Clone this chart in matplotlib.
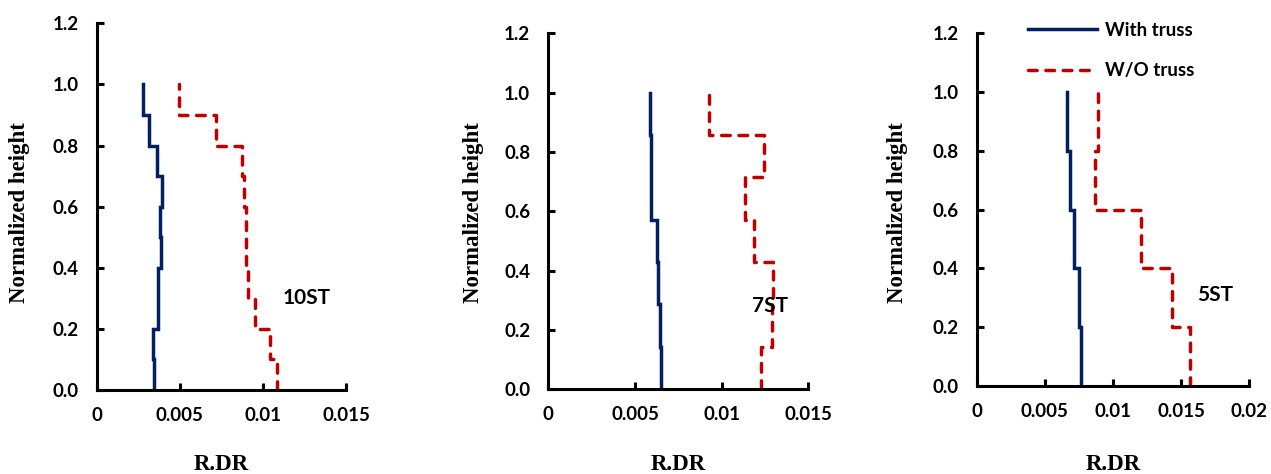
import numpy as np
import matplotlib
matplotlib.use('Agg')
import matplotlib.pyplot as plt

# story drift ratios, listed bottom story first
h10 = [0.0, 0.1, 0.2, 0.3, 0.4, 0.5, 0.6, 0.7, 0.8, 0.9, 1.0]
with10 = [0.00342, 0.00338, 0.00367, 0.0037, 0.00384, 0.0038, 0.0039, 0.00364, 0.00314, 0.0028]
wo10 = [0.01086, 0.01044, 0.0095, 0.0091, 0.009, 0.00896, 0.00886, 0.00874, 0.0072, 0.00494]

h7 = [0.0, 0.143, 0.286, 0.429, 0.571, 0.714, 0.857, 1.0]
with7 = [0.0065, 0.00646, 0.00633, 0.00625, 0.00595, 0.0059, 0.00587]
wo7 = [0.01225, 0.0129, 0.01294, 0.01188, 0.01133, 0.01246, 0.00929]

h5 = [0.0, 0.2, 0.4, 0.6, 0.8, 1.0]
with5 = [0.00762, 0.00748, 0.00713, 0.00684, 0.00664]
wo5 = [0.01564, 0.0143, 0.01207, 0.00867, 0.00887]

W, H = 1271, 474
blue = '#002060'
red = '#C00000'
tick_font = 'Lato'
serif = 'Liberation Serif'
fs_tick = 13.5


def profile(h, d):
    # vertical segment for each story, joined at floor levels
    x = np.repeat(d, 2)
    y = np.concatenate([[h[0]], np.repeat(h[1:-1], 2), [h[-1]]])
    return x, y


def make_ax(px, xmax, xticks, xlabels):
    l, r, t, b = px
    ax = fig.add_axes([l/W, 1-b/H, (r-l)/W, (b-t)/H])
    for s in ['top', 'right']:
        ax.spines[s].set_visible(False)
    for s in ['left', 'bottom']:
        ax.spines[s].set_linewidth(2.2)
    ax.set_xlim(0, xmax)
    ax.set_ylim(0, 1.2)
    ax.set_xticks(xticks)
    ax.set_xticklabels(xlabels)
    ax.set_yticks([0, 0.2, 0.4, 0.6, 0.8, 1.0, 1.2])
    ax.set_yticklabels(['0.0', '0.2', '0.4', '0.6', '0.8', '1.0', '1.2'])
    ax.tick_params(axis='both', direction='in', length=5, width=2.2)
    ax.tick_params(axis='x', pad=12)
    ax.tick_params(axis='y', pad=13)
    for lb in ax.get_xticklabels() + ax.get_yticklabels():
        lb.set_fontfamily(tick_font)
        lb.set_fontweight('bold')
        lb.set_fontsize(fs_tick)
    return ax


fig = plt.figure(figsize=(W/100, H/100), dpi=100)

panels = [
    ((96.7, 346, 23.3, 390), 0.015, h10, with10, wo10, '10ST', (0.0112, 0.30), 20),
    ((548.3, 808.3, 33.3, 389.3), 0.015, h7, with7, wo7, '7ST', (0.01175, 0.28), 473),
    ((976.7, 1249.3, 33.3, 386), 0.02, h5, with5, wo5, '5ST', (0.0162, 0.31), 898),
]

for i, (px, xmax, h, dw, dwo, name, pos, ylx) in enumerate(panels):
    if xmax == 0.015:
        xt = [0, 0.005, 0.01, 0.015]
        xl = ['0', '0.005', '0.01', '0.015']
    else:
        xt = [0, 0.005, 0.01, 0.015, 0.02]
        xl = ['0', '0.005', '0.01', '0.015', '0.02']
    ax = make_ax(px, xmax, xt, xl)
    x, y = profile(h, dw)
    ax.plot(x, y, color=blue, lw=2.5, label='With truss', solid_joinstyle='miter')
    x, y = profile(h, dwo)
    ax.plot(x, y, color=red, lw=2.5, ls=(0, (2.5, 2.5)), dash_capstyle='round',
            label='W/O truss')
    ax.text(pos[0], pos[1], name, fontfamily=tick_font, fontweight='bold',
            fontsize=15, ha='left', va='center')
    fig.text(ylx/W, 1-213/H, 'Normalized height', rotation=90,
             fontfamily=serif, fontweight='bold', fontsize=16.5,
             ha='center', va='center')
    fig.text((px[0]+px[1])/2/W, 1-465/H, 'R.DR', fontfamily=serif,
             fontweight='bold', fontsize=16.5, ha='center', va='center')
    if i == 2:
        leg = ax.legend(loc='upper left',
                        bbox_to_anchor=((1028-px[0])/(px[1]-px[0]), (px[3]-22)/(px[3]-px[2])),
                        frameon=False, handlelength=3.7, handletextpad=0.4,
                        labelspacing=1.25, borderaxespad=0, borderpad=0,
                        prop={'family': tick_font, 'weight': 'bold', 'size': fs_tick})

fig.savefig('out.png', dpi=100)
